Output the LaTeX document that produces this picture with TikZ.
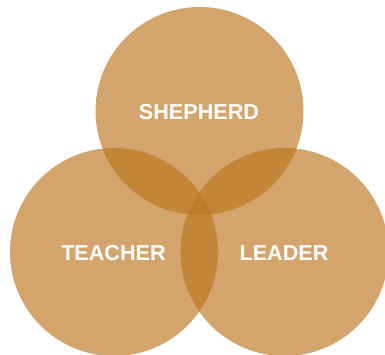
\documentclass[tikz,border=0pt]{standalone}
\usepackage{fontspec}
\setmainfont{Liberation Sans}
\definecolor{venn}{RGB}{187,117,30}
\begin{document}
\begin{tikzpicture}[x=1pt,y=-1pt,
  vcircle/.style={circle, fill=venn, fill opacity=0.65,
    minimum size=208pt, inner sep=0pt},
  vlabel/.style={text=white, inner sep=0pt,
    font=\fontsize{21.6}{24}\selectfont\bfseries}]
\useasboundingbox (0,0) rectangle (385,355);
\node[vcircle] (shepherd) at (199.5,111) {};
\node[vcircle] (teacher) at (114,252) {};
\node[vcircle] (leader) at (284.5,252) {};
\node[vlabel] (tshepherd) at (199,112.3) {SHEPHERD};
\node[vlabel] (tteacher) at (113.5,253.2) {TEACHER};
\node[vlabel] (tleader) at (284,253.2) {LEADER};
\end{tikzpicture}
\end{document}
